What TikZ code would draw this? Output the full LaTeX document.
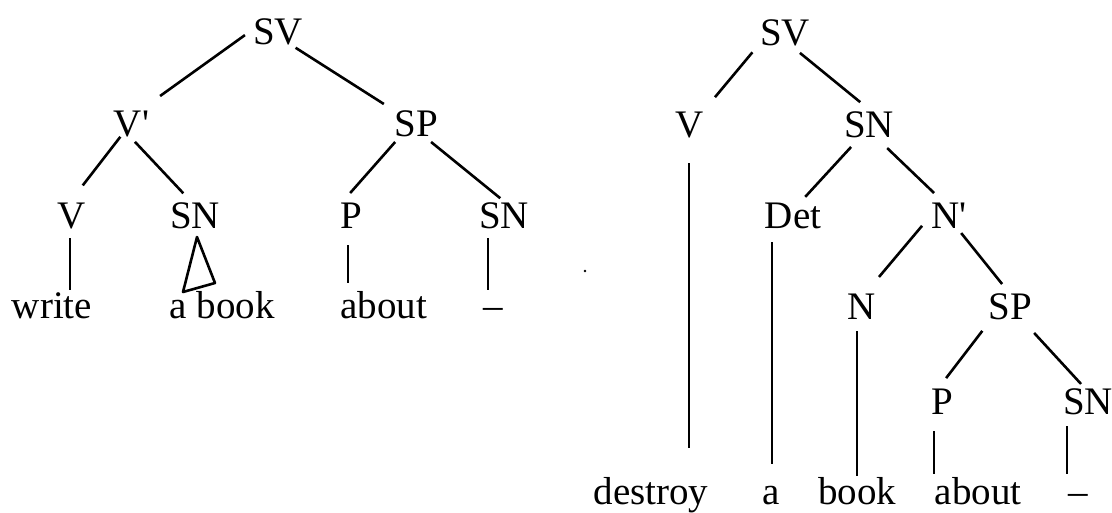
\documentclass[tikz,border=0pt]{standalone}
\usepackage{fontspec}
\setmainfont{Liberation Serif}
\newcommand\tlink[6]{\draw[shorten <=#3pt,shorten >=#6pt] (#1.#2) -- (#4.#5);}
\begin{document}
\begin{tikzpicture}[x=1pt,y=-1pt,line width=2.6pt,
  every node/.style={font=\fontsize{39}{44}\selectfont,inner sep=0pt,outer sep=0pt},
  lab/.style={anchor=base,text height=26pt,text depth=0pt},
  word/.style={anchor=base,text height=27pt,text depth=8pt}]
\useasboundingbox (0,0) rectangle (1112,512);
% ---------- left tree ----------
\node[lab] (lSV) at (278,44) {SV};
\node[lab] (lV1) at (131.5,136) {V\textquotesingle};
\node[lab] (lSP) at (416.5,136) {SP};
\node[lab] (lV) at (71.5,228) {V};
\node[lab] (lSNa) at (195,228) {SN};
\node[lab] (lP) at (351,228) {P};
\node[lab] (lSNb) at (504,228) {SN};
\node[word] (wWrite) at (52,318) {write};
\node[word] (wABook) at (222,318) {a book};
\node[word] (wAbout) at (384,318) {about};
\node[word] (wDash) at (493,318) {–};
\tlink{lSV}{176}{10}{lV1}{55}{24}
\tlink{lSV}{-48}{7}{lSP}{151}{13}
\tlink{lV1}{-129.5}{1}{lV}{97}{21}
\tlink{lV1}{-99}{8}{lSNa}{105}{12}
\tlink{lSP}{-141.3}{8}{lP}{124.7}{12}
\tlink{lSP}{-61.4}{9.5}{lSNb}{86}{6}
\coordinate (cV) at ([xshift=-1.5pt,yshift=-10pt]lV.south);
\draw[shorten >=1pt] (cV) -- (cV |- wWrite.north);
\coordinate (triA) at ([xshift=2pt,yshift=-9pt]lSNa.south);
\coordinate (triL) at ([xshift=-39pt,yshift=-1pt]wABook.north);
\coordinate (triR) at ([xshift=-7pt,yshift=8pt]wABook.north);
\draw[line join=round] (triA) -- (triL) -- (triR) -- cycle;
\coordinate (cP) at ([xshift=-3pt,yshift=-17pt]lP.south);
\draw[shorten >=8pt] (cP) -- (cP |- wAbout.north);
\coordinate (cSNb) at ([xshift=-16pt,yshift=-10pt]lSNb.south);
\draw[shorten >=1pt] (cSNb) -- (cSNb |- wDash.north);
% ---------- right tree ----------
\node[lab] (rSV) at (785,45) {SV};
\node[lab] (rV) at (690,137) {V};
\node[lab] (rSN) at (869,137) {SN};
\node[lab] (rDet) at (793,228) {Det};
\node[lab] (rN1) at (949,228) {N\textquotesingle};
\node[lab] (rN) at (862,319) {N};
\node[lab] (rSP) at (1010,319) {SP};
\node[lab] (rP) at (942,414) {P};
\node[lab] (rSNb) at (1088,414) {SN};
\node[word] (wDestroy) at (651,504) {destroy};
\node[word] (wA) at (771,504) {a};
\node[word] (wBook) at (857,504) {book};
\node[word] (wAbout2) at (978,504) {about};
\node[word] (wDash2) at (1078,504) {–};
\tlink{rSV}{204.7}{12}{rV}{44.6}{18}
\tlink{rSV}{-68.2}{12.5}{rSN}{81.3}{14}
\tlink{rSN}{-124.1}{13.5}{rDet}{60.3}{7}
\tlink{rSN}{-63.4}{16}{rN1}{113.3}{13}
\tlink{rN1}{179}{14.5}{rN}{75}{21}
\tlink{rN1}{-58.4}{6.5}{rSP}{93.5}{11.5}
\tlink{rSP}{-145.3}{15}{rP}{105.9}{12.5}
\tlink{rSP}{-49.5}{19}{rSNb}{104.2}{5.5}
\coordinate (dV) at ([xshift=-1pt,yshift=-26pt]rV.south);
\draw[shorten >=29pt] (dV) -- (dV |- wDestroy.north);
\coordinate (dDet) at ([xshift=-21pt,yshift=-14pt]rDet.south);
\draw[shorten >=13pt] (dDet) -- (dDet |- wA.north);
\coordinate (dN) at ([xshift=-5pt,yshift=-12pt]rN.south);
\draw[shorten >=1pt] (dN) -- (dN |- wBook.north);
\coordinate (dP) at ([xshift=-8pt,yshift=-17pt]rP.south);
\draw[shorten >=3pt] (dP) -- (dP |- wAbout2.north);
\coordinate (dSNb) at ([xshift=-21pt,yshift=-12pt]rSNb.south);
\draw[shorten >=3pt] (dSNb) -- (dSNb |- wDash2.north);
\fill (585,271) circle (1.3pt);
\end{tikzpicture}
\end{document}
